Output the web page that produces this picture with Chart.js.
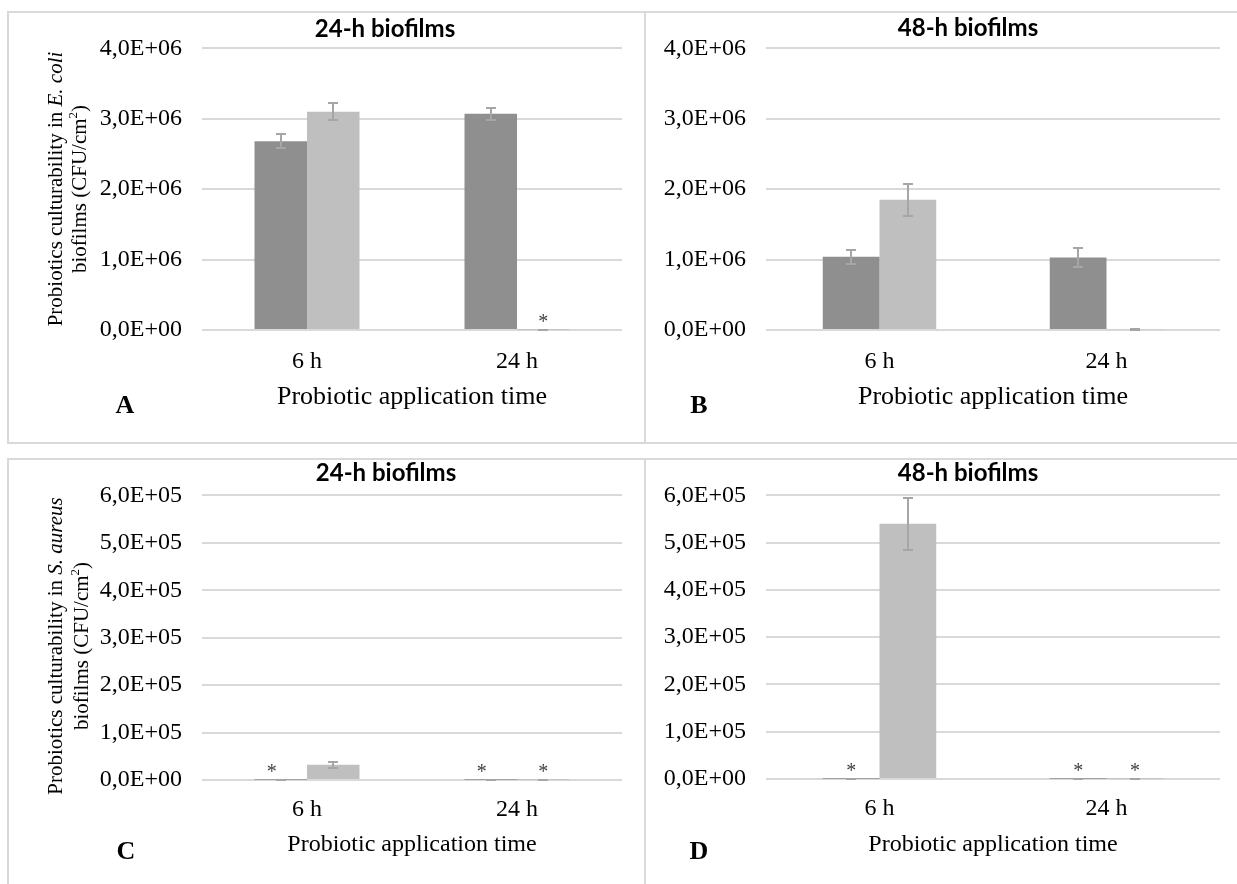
<!DOCTYPE html>
<html>
<head>
<meta charset="utf-8">
<title>Probiotics culturability in biofilms</title>
<script src="https://cdn.jsdelivr.net/npm/chart.js@4.4.1/dist/chart.umd.min.js"></script>
<style>
  html, body { margin: 0; padding: 0; background: #ffffff; }
  #fig { position: relative; width: 1237px; height: 884px; overflow: hidden; background: #ffffff; }
  #fig canvas { position: absolute; }
  .rule { position: absolute; background: #d9d9d9; }
</style>
</head>
<body>
<div id="fig">
  <canvas id="panelA"></canvas>
  <canvas id="panelB"></canvas>
  <canvas id="panelC"></canvas>
  <canvas id="panelD"></canvas>
  <!-- panel frames -->
  <div class="rule" style="left:7px;top:11px;width:1230px;height:2px"></div>
  <div class="rule" style="left:7px;top:442px;width:1230px;height:2px"></div>
  <div class="rule" style="left:7px;top:458px;width:1230px;height:2px"></div>
  <div class="rule" style="left:7px;top:11px;width:2px;height:433px"></div>
  <div class="rule" style="left:644px;top:11px;width:2px;height:433px"></div>
  <div class="rule" style="left:7px;top:458px;width:2px;height:426px"></div>
  <div class="rule" style="left:644px;top:458px;width:2px;height:426px"></div>
</div>
<script>
// ---- data ----
const categories = ['6 h', '24 h'];
const seriesNames = ['Series 1', 'Series 2'];

// E. coli biofilms, 24 h
const ecoli24Dark = [2.68e6, 3.07e6];
const ecoli24DarkErr = [0.10e6, 0.09e6];
const ecoli24Light = [3.10e6, 2.0e3];
const ecoli24LightErr = [0.12e6, 2.0e3];

// E. coli biofilms, 48 h
const ecoli48Dark = [1.04e6, 1.03e6];
const ecoli48DarkErr = [0.10e6, 0.13e6];
const ecoli48Light = [1.85e6, 1.0e4];
const ecoli48LightErr = [0.23e6, 1.0e4];

// S. aureus biofilms, 24 h
const saureus24Dark = [500, 500];
const saureus24DarkErr = [500, 500];
const saureus24Light = [3.2e4, 500];
const saureus24LightErr = [0.6e4, 500];

// S. aureus biofilms, 48 h
const saureus48Dark = [500, 500];
const saureus48DarkErr = [500, 500];
const saureus48Light = [5.4e5, 500];
const saureus48LightErr = [0.55e5, 500];

// significance marks: [series index, category index]
const ecoli24Stars = [[1, 1]];
const ecoli48Stars = [];
const saureus24Stars = [[0, 0], [0, 1], [1, 1]];
const saureus48Stars = [[0, 0], [0, 1], [1, 1]];

// axis tick labels
const ecoliTicks = ['0,0E+00', '1,0E+06', '2,0E+06', '3,0E+06', '4,0E+06'];
const saureusTicks = ['0,0E+00', '1,0E+05', '2,0E+05', '3,0E+05', '4,0E+05', '5,0E+05', '6,0E+05'];

// ---- styling ----
const SERIF = "'Liberation Serif', 'Times New Roman', serif";
const SANS = "Lato, 'Open Sans', sans-serif";
const DARK = '#8f8f8f';
const LIGHT = '#bfbfbf';
const GRID = '#d9d9d9';
const ERR = '#a6a6a6';

// draws error bars, panel titles, axis titles, letters and asterisks
const decor = {
  id: 'decor',
  afterDatasetsDraw(chart, args, o) {
    const ctx = chart.ctx;
    const y = chart.scales.y;
    chart.data.datasets.forEach((ds, di) => {
      const meta = chart.getDatasetMeta(di);
      ds.errors.forEach((e, i) => {
        const bar = meta.data[i];
        const v = ds.data[i];
        const top = Math.round(y.getPixelForValue(v + e));
        const bot = Math.round(y.getPixelForValue(Math.max(v - e, 0)));
        const x = Math.round(bar.x);
        ctx.save();
        ctx.strokeStyle = ERR;
        ctx.lineWidth = 2;
        ctx.beginPath();
        ctx.moveTo(x, top); ctx.lineTo(x, bot);
        ctx.moveTo(x - 5, top); ctx.lineTo(x + 5, top);
        ctx.moveTo(x - 5, bot); ctx.lineTo(x + 5, bot);
        ctx.stroke();
        ctx.restore();
      });
    });
  },
  afterDraw(chart, args, o) {
    const ctx = chart.ctx;
    const y = chart.scales.y;
    const ox = o.ox, oy = o.oy;
    ctx.save();
    ctx.fillStyle = '#000';
    ctx.textAlign = 'center';
    ctx.textBaseline = 'middle';

    // panel title
    ctx.font = 'bold 24px ' + SANS;
    ctx.fillText(o.title, o.titlePos[0] - ox, o.titlePos[1] - oy);

    // x axis title
    ctx.font = o.xTitleSize + 'px ' + SERIF;
    ctx.fillText('Probiotic application time', o.xTitlePos[0] - ox, o.xTitlePos[1] - oy);

    // panel letter
    ctx.font = 'bold 26px ' + SERIF;
    ctx.fillText(o.letter, o.letterPos[0] - ox, o.letterPos[1] - oy);

    // asterisks
    ctx.font = '20px ' + SERIF;
    ctx.fillStyle = '#404040';
    ctx.textBaseline = 'alphabetic';
    o.stars.forEach(([di, ci]) => {
      const ds = chart.data.datasets[di];
      const bar = chart.getDatasetMeta(di).data[ci];
      const top = y.getPixelForValue(ds.data[ci] + ds.errors[ci]);
      ctx.fillText('*', bar.x + (o.starShift[di] || 0), top - 2);
    });

    // y axis title (rotated, mixed styles)
    if (o.yTitle) {
      ctx.fillStyle = '#000';
      ctx.textBaseline = 'middle';
      o.yTitle.lines.forEach((segs, li) => {
        const size = 21;
        const fontFor = s => (s.italic ? 'italic ' : '') + (s.sup ? Math.round(size * 0.62) : size) + 'px ' + SERIF;
        let total = 0;
        segs.forEach(s => { ctx.font = fontFor(s); total += ctx.measureText(s.t).width; });
        ctx.save();
        ctx.translate(o.yTitle.x[li] - ox, o.yTitle.cy - oy);
        ctx.rotate(-Math.PI / 2);
        ctx.textAlign = 'left';
        let cx = -total / 2;
        segs.forEach(s => {
          ctx.font = fontFor(s);
          ctx.fillText(s.t, cx, s.sup ? -6 : 0);
          cx += ctx.measureText(s.t).width;
        });
        ctx.restore();
      });
    }
    ctx.restore();
  }
};

function makePanel(id, box, area, cfg) {
  const cv = document.getElementById(id);
  cv.style.left = box.x + 'px';
  cv.style.top = box.y + 'px';
  cv.width = box.w;
  cv.height = box.h;
  return new Chart(cv, {
    type: 'bar',
    data: {
      labels: categories,
      datasets: [
        { label: seriesNames[0], data: cfg.dark, errors: cfg.darkErr, backgroundColor: DARK, borderWidth: 0 },
        { label: seriesNames[1], data: cfg.light, errors: cfg.lightErr, backgroundColor: LIGHT, borderWidth: 0 }
      ]
    },
    options: {
      responsive: false,
      animation: false,
      devicePixelRatio: 1,
      layout: { padding: { left: 0, top: area.t - box.y, right: box.x + box.w - area.r, bottom: 0 } },
      datasets: { bar: { categoryPercentage: 0.5, barPercentage: 1.0 } },
      scales: {
        x: {
          grid: { display: false },
          border: { display: false },
          ticks: { padding: cfg.xTickPad, color: '#000', font: { family: SERIF, size: 24 }, maxRotation: 0 },
          afterFit(s) { s.height = box.y + box.h - area.b; }
        },
        y: {
          min: 0,
          max: cfg.max,
          grid: { color: GRID, lineWidth: 2, drawTicks: false },
          border: { display: false },
          ticks: {
            stepSize: cfg.step, padding: 20, autoSkip: false, color: '#000',
            font: { family: SERIF, size: 24 },
            callback: (v, i) => cfg.tickLabels[i]
          },
          afterFit(s) { s.width = area.l - box.x; }
        }
      },
      plugins: {
        legend: { display: false },
        tooltip: { enabled: false },
        decor: {
          ox: box.x, oy: box.y,
          title: cfg.title, titlePos: cfg.titlePos,
          letter: cfg.letter, letterPos: cfg.letterPos,
          xTitleSize: cfg.xTitleSize, xTitlePos: cfg.xTitlePos,
          stars: cfg.stars, starShift: cfg.starShift || [0, 0],
          yTitle: cfg.yTitle
        }
      }
    },
    plugins: [decor]
  });
}

const cfuLine = [{ t: 'biofilms (CFU/cm' }, { t: '2', sup: true }, { t: ')' }];

makePanel('panelA', { x: 10, y: 14, w: 634, h: 428 }, { l: 202, t: 42, r: 622, b: 330 }, {
  dark: ecoli24Dark, darkErr: ecoli24DarkErr, light: ecoli24Light, lightErr: ecoli24LightErr,
  max: 4e6, step: 1e6, tickLabels: ecoliTicks, xTickPad: 9,
  title: '24-h biofilms', titlePos: [385, 29],
  letter: 'A', letterPos: [125, 406],
  xTitleSize: 26, xTitlePos: [412, 397],
  stars: ecoli24Stars,
  yTitle: { x: [56, 80], cy: 189, lines: [[{ t: 'Probiotics culturability in ' }, { t: 'E. coli', italic: true }], cfuLine] }
});

makePanel('panelB', { x: 647, y: 14, w: 590, h: 428 }, { l: 766, t: 42, r: 1220, b: 330 }, {
  dark: ecoli48Dark, darkErr: ecoli48DarkErr, light: ecoli48Light, lightErr: ecoli48LightErr,
  max: 4e6, step: 1e6, tickLabels: ecoliTicks, xTickPad: 9,
  title: '48-h biofilms', titlePos: [968, 28],
  letter: 'B', letterPos: [699, 406],
  xTitleSize: 26, xTitlePos: [993, 397],
  stars: ecoli48Stars
});

makePanel('panelC', { x: 10, y: 461, w: 634, h: 423 }, { l: 202, t: 488, r: 622, b: 780 }, {
  dark: saureus24Dark, darkErr: saureus24DarkErr, light: saureus24Light, lightErr: saureus24LightErr,
  max: 6e5, step: 1e5, tickLabels: saureusTicks, xTickPad: 7,
  title: '24-h biofilms', titlePos: [386, 473],
  letter: 'C', letterPos: [126, 852],
  xTitleSize: 24, xTitlePos: [412, 845],
  stars: saureus24Stars, starShift: [-9, 0],
  yTitle: { x: [56, 82], cy: 646, lines: [[{ t: 'Probiotics culturability in ' }, { t: 'S. aureus', italic: true }], cfuLine] }
});

makePanel('panelD', { x: 647, y: 461, w: 590, h: 423 }, { l: 766, t: 488, r: 1220, b: 779 }, {
  dark: saureus48Dark, darkErr: saureus48DarkErr, light: saureus48Light, lightErr: saureus48LightErr,
  max: 6e5, step: 1e5, tickLabels: saureusTicks, xTickPad: 7,
  title: '48-h biofilms', titlePos: [968, 473],
  letter: 'D', letterPos: [699, 852],
  xTitleSize: 24, xTitlePos: [993, 845],
  stars: saureus48Stars
});
</script>
</body>
</html>
